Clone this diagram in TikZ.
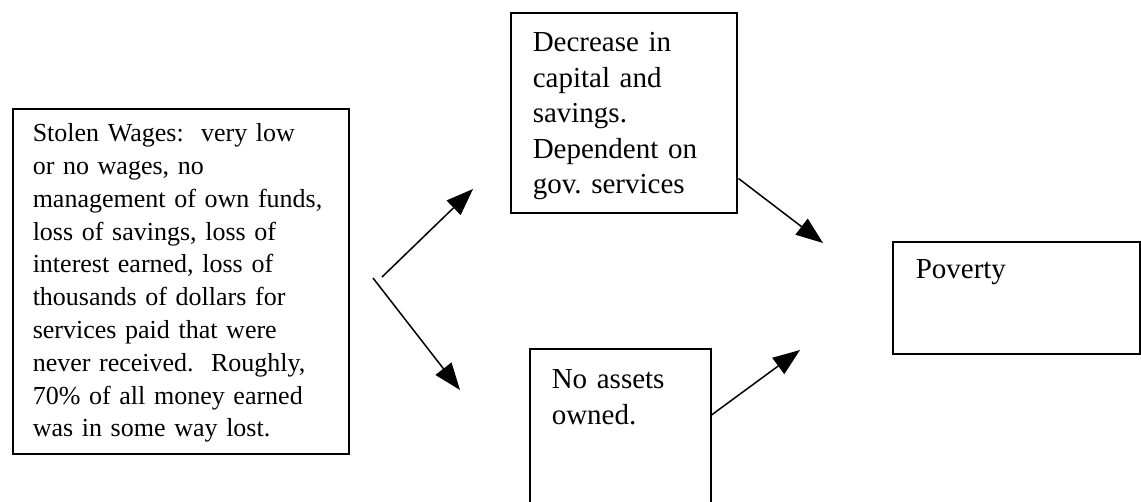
\documentclass[tikz,border=0pt]{standalone}
\usepackage{fontspec}
\setmainfont{Liberation Serif}
\usepackage{tikz}
\usetikzlibrary{arrows.meta,positioning,calc}

\begin{document}
\begin{tikzpicture}[x=1pt,y=-1pt,
  box/.style={draw,line width=1.5pt,anchor=north west,align=left,inner ysep=0pt,
              font=\fontsize{29}{35.5}\selectfont},
  arrow/.style={-{Triangle[length=27pt,width=20pt]},line width=1.5pt}
]
  \clip (0,0) rectangle (1141,501);
  \node[box,font=\fontsize{26}{32.8}\selectfont,text width=296pt,inner xsep=20pt,
        text height=33pt,text depth=312pt](wages) at (12,108)
    {Stolen Wages:\ \ very low\\ or no wages, no\\ management of own funds,\\
     loss of savings, loss of\\ interest earned, loss of\\ thousands of dollars for\\
     services paid that were\\ never received.\ \ Roughly,\\ 70\% of all money earned\\
     was in some way lost.};
\node[box,text width=182pt,inner xsep=22pt,text height=39pt,text depth=161pt](capital) at (510,12)
    {Decrease in\\ capital and\\ savings.\\ Dependent on\\ gov.\ services};
\node[box,text width=137pt,inner xsep=22pt,text height=40pt,text depth=132pt](assets) at (529,348)
    {No assets\\ owned.};
\node[box,text width=201pt,inner xsep=23pt,text height=37pt,text depth=75pt](poverty) at (892,241)
    {Poverty};
  % fork out of the wages box
  \coordinate (forkUp) at (382,277);
  \coordinate (forkDown) at (373,278);
  \coordinate (tipUp) at (473,189);
  \coordinate (tipDown) at (460,390);
  \coordinate (tipCapital) at (823,243);
  \coordinate (tipAssets) at (800,350);
  \draw[arrow](forkUp)--(tipUp);
  \draw[arrow](forkDown)--(tipDown);
  \draw[arrow]($(capital.south east)+(1,-35)$)--(tipCapital);
  \draw[arrow]($(assets.north east)+(0,67)$)--(tipAssets);
\end{tikzpicture}
\end{document}
